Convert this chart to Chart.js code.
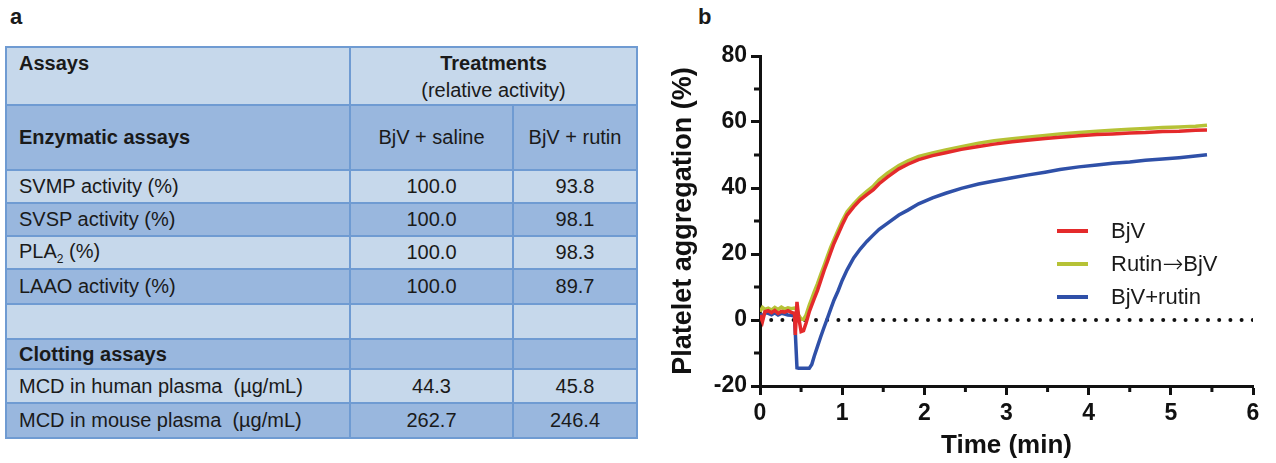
<!DOCTYPE html>
<html>
<head>
<meta charset="utf-8">
<script src="https://cdn.jsdelivr.net/npm/chart.js@4.4.1/dist/chart.umd.min.js"></script>
<style>
  body { margin: 0; background: #fff; font-family: "Liberation Sans", Arial, sans-serif; color: #1a1a1a; }
  .panel { position: absolute; font-weight: bold; font-size: 22px; }
  #tbl { position: absolute; left: 5px; top: 46px; border-collapse: collapse; table-layout: fixed; font-size: 20px; }
  #tbl td { border: 2px solid #6f9bd2; padding: 0 0 0 12px; white-space: nowrap; }
  #tbl td.c { text-align: center; padding: 0; }
  #tbl tr.light td { background: #c6d8eb; }
  #tbl tr.dark td { background: #99b7de; }
  #tbl .b { font-weight: bold; }
  #chartBox { position: absolute; left: 650px; top: 0; width: 626px; height: 463px; }
  #legend { position: absolute; left: 1057px; top: 214px; font-size: 22px; }
  #legend div { height: 33px; display: flex; align-items: center; }
  #legend span.ln { display: inline-block; width: 31px; height: 4px; margin-right: 23px; }
  #legend span.arr { font-family: "DejaVu Sans", sans-serif; font-size: 25px; font-weight: 200; line-height: 22px; }
</style>
</head>
<body>
<div class="panel" style="left:10px; top:4px;">a</div>
<div class="panel" style="left:698px; top:4px;">b</div>

<table id="tbl">
  <colgroup><col style="width:344px"><col style="width:163px"><col style="width:124px"></colgroup>
  <tbody id="tblBody"></tbody>
</table>

<div id="chartBox"><canvas id="aggChart"></canvas></div>
<div id="legend"></div>

<script>
// table (panel a)
const assayNames = ['SVMP activity (%)', 'SVSP activity (%)', 'PLA<sub style="font-size:12px">2</sub> (%)', 'LAAO activity (%)'];
const salineValues = ['100.0', '100.0', '100.0', '100.0'];
const rutinValues = ['93.8', '98.1', '98.3', '89.7'];
const clottingNames = ['MCD in human plasma&nbsp; (µg/mL)', 'MCD in mouse plasma&nbsp; (µg/mL)'];
const clottingSaline = ['44.3', '262.7'];
const clottingRutin = ['45.8', '246.4'];

// chart (panel b)
const timeMin = [0, 0.03, 0.06, 0.1, 0.14, 0.18, 0.22, 0.26, 0.3, 0.34, 0.38, 0.42, 0.43, 0.45, 0.47, 0.5, 0.53, 0.56,
  0.6, 0.63, 0.66, 0.7, 0.74, 0.78, 0.82, 0.86, 0.9, 0.95, 1.0, 1.06, 1.14, 1.22, 1.3, 1.38, 1.45, 1.55, 1.69, 1.8,
  1.93, 2.1, 2.26, 2.45, 2.66, 2.85, 3.07, 3.25, 3.47, 3.65, 3.88, 4.1, 4.29, 4.5, 4.69, 4.9, 5.1, 5.3, 5.44];
const bjv = [1.5, -0.5, 2.5, 2.8, 2.2, 2.9, 2.0, 2.6, 2.4, 2.8, 2.3, 2.0, -4.5, 5.5, 1.0, -3.5, -3.2, -1.0,
  2.5, 4.5, 6.5, 9.0, 12.0, 15.0, 17.7, 20.5, 23.2, 26.0, 28.8, 31.8, 34.3, 36.4, 38.0, 39.5, 41.3, 43.3, 45.8, 47.2,
  48.6, 49.8, 50.7, 51.7, 52.6, 53.3, 54.0, 54.5, 55.0, 55.4, 55.8, 56.2, 56.4, 56.7, 56.8, 57.1, 57.2, 57.5, 57.6];
const rutinThenBjv = [2.5, 3.8, 3.2, 3.6, 3.0, 3.8, 3.2, 3.9, 3.3, 3.7, 3.4, 3.6, 3.5, 3.2, 1.5, 0.3, 0.2, 1.5,
  4.5, 6.5, 8.5, 11.0, 13.8, 16.5, 19.3, 22.0, 24.3, 27.2, 30.0, 32.8, 35.2, 37.3, 39.0, 40.6, 42.5, 44.5, 46.8, 48.2,
  49.6, 50.6, 51.5, 52.5, 53.6, 54.3, 54.9, 55.4, 55.9, 56.4, 56.8, 57.2, 57.5, 57.8, 58.0, 58.3, 58.5, 58.7, 59.0];
const bjvPlusRutin = [2.0, 1.0, 2.2, 2.0, 1.6, 2.2, 1.5, 2.0, 1.8, 1.5, 1.4, 1.2, -4.0, -14.5, -14.6, -14.6, -14.6, -14.6,
  -14.6, -13.5, -11.0, -8.0, -5.0, -2.2, 0.5, 3.3, 6.0, 8.8, 12.0, 15.2, 18.8, 21.5, 23.8, 25.8, 27.5, 29.3, 31.8, 33.3,
  35.2, 37.0, 38.4, 39.9, 41.2, 42.1, 43.1, 43.9, 44.8, 45.6, 46.4, 47.0, 47.5, 47.9, 48.4, 48.8, 49.2, 49.7, 50.1];
const seriesLabels = ['BjV', 'Rutin→BjV', 'BjV+rutin'];
const seriesColors = ['#e42a2b', '#b6c236', '#2f50a8'];
const zeroX = [0, 6];
const zeroY = [0, 0];
const minorX = [0.5, 1.5, 2.5, 3.5, 4.5, 5.5];
const minorY = [-10, 10, 30, 50, 70];

// build table rows
const rowSpec = [
  ['light', '<td class="b" style="vertical-align:top;padding-top:4px">Assays</td><td class="c" colspan="2" style="vertical-align:top;padding-top:2px;line-height:27px"><span class="b">Treatments</span><br>(relative activity)</td>', 57],
  ['dark', '<td class="b">Enzymatic assays</td><td class="c">BjV + saline</td><td class="c">BjV + rutin</td>', 65]
];
assayNames.forEach((n, i) => {
  rowSpec.push([i % 2 ? 'dark' : 'light', `<td>${n}</td><td class="c">${salineValues[i]}</td><td class="c">${rutinValues[i]}</td>`, i === 3 ? 35 : 33]);
});
rowSpec.push(['light', '<td></td><td></td><td></td>', 35]);
rowSpec.push(['dark', '<td class="b">Clotting assays</td><td></td><td></td>', 30]);
clottingNames.forEach((n, i) => {
  rowSpec.push([i % 2 ? 'dark' : 'light', `<td>${n}</td><td class="c">${clottingSaline[i]}</td><td class="c">${clottingRutin[i]}</td>`, 34 + i]);
});
document.getElementById('tblBody').innerHTML = rowSpec
  .map(r => `<tr class="${r[0]}" style="height:${r[2]}px">${r[1]}</tr>`).join('');

// legend (arrow glyph set in a font that has a full-size one)
document.getElementById('legend').innerHTML = seriesLabels
  .map((l, i) => `<div><span class="ln" style="background:${seriesColors[i]}"></span>${l.replace('→', '<span class="arr">→</span>')}</div>`).join('');

const toPoints = vals => timeMin.map((t, i) => ({ x: t, y: vals[i] }));
const fontFam = '"Liberation Sans", Arial, sans-serif';

const minorTicks = {
  id: 'minorTicks',
  afterDraw(chart) {
    const { ctx, scales: { x, y } } = chart;
    ctx.save();
    ctx.strokeStyle = '#111';
    ctx.lineWidth = 3;
    minorX.forEach(v => {
      const px = x.getPixelForValue(v);
      ctx.beginPath(); ctx.moveTo(px, y.bottom); ctx.lineTo(px, y.bottom + 6); ctx.stroke();
    });
    minorY.forEach(v => {
      const py = y.getPixelForValue(v);
      ctx.beginPath(); ctx.moveTo(x.left, py); ctx.lineTo(x.left - 6, py); ctx.stroke();
    });
    ctx.restore();
  }
};

new Chart(document.getElementById('aggChart'), {
  type: 'line',
  data: {
    datasets: [
      { label: seriesLabels[0], data: toPoints(bjv), borderColor: seriesColors[0], borderWidth: 3.5 },
      { label: seriesLabels[1], data: toPoints(rutinThenBjv), borderColor: seriesColors[1], borderWidth: 3.5 },
      { label: seriesLabels[2], data: toPoints(bjvPlusRutin), borderColor: seriesColors[2], borderWidth: 3.5 },
      { label: 'zero', data: zeroX.map((x, i) => ({ x: x, y: zeroY[i] })), borderColor: '#111',
        borderWidth: 4, borderDash: [0, 11.2], borderCapStyle: 'round' }
    ]
  },
  options: {
    responsive: true,
    maintainAspectRatio: false,
    animation: false,
    layout: { padding: { top: 56, right: 23, bottom: 0, left: 0 } },
    elements: { point: { radius: 0 }, line: { tension: 0 } },
    plugins: { legend: { display: false }, tooltip: { enabled: false } },
    scales: {
      x: {
        type: 'linear', min: 0, max: 6,
        ticks: { stepSize: 1, color: '#111', padding: 5, maxRotation: 0,
          font: { family: fontFam, size: 23, weight: 'bold' } },
        grid: { drawOnChartArea: false, tickLength: 9, tickWidth: 3, tickColor: '#111' },
        border: { width: 3, color: '#111' },
        title: { display: true, text: 'Time (min)', color: '#111', padding: { top: 0, bottom: 2 },
          font: { family: fontFam, size: 26, weight: 'bold' } },
        afterFit(s) { s.height = 77; s.paddingLeft = 0; s.paddingRight = 0; }
      },
      y: {
        min: -20, max: 80,
        ticks: { stepSize: 20, color: '#111', padding: 4,
          font: { family: fontFam, size: 23, weight: 'bold' } },
        grid: { drawOnChartArea: false, tickLength: 9, tickWidth: 3, tickColor: '#111' },
        border: { width: 3, color: '#111' },
        title: { display: true, text: 'Platelet aggregation (%)', color: '#111', padding: { top: 17, bottom: 0 },
          font: { family: fontFam, size: 27, weight: 'bold' } },
        afterFit(s) { s.width = 110; s.paddingTop = 0; s.paddingBottom = 0; }
      }
    }
  },
  plugins: [minorTicks]
});
</script>
</body>
</html>
